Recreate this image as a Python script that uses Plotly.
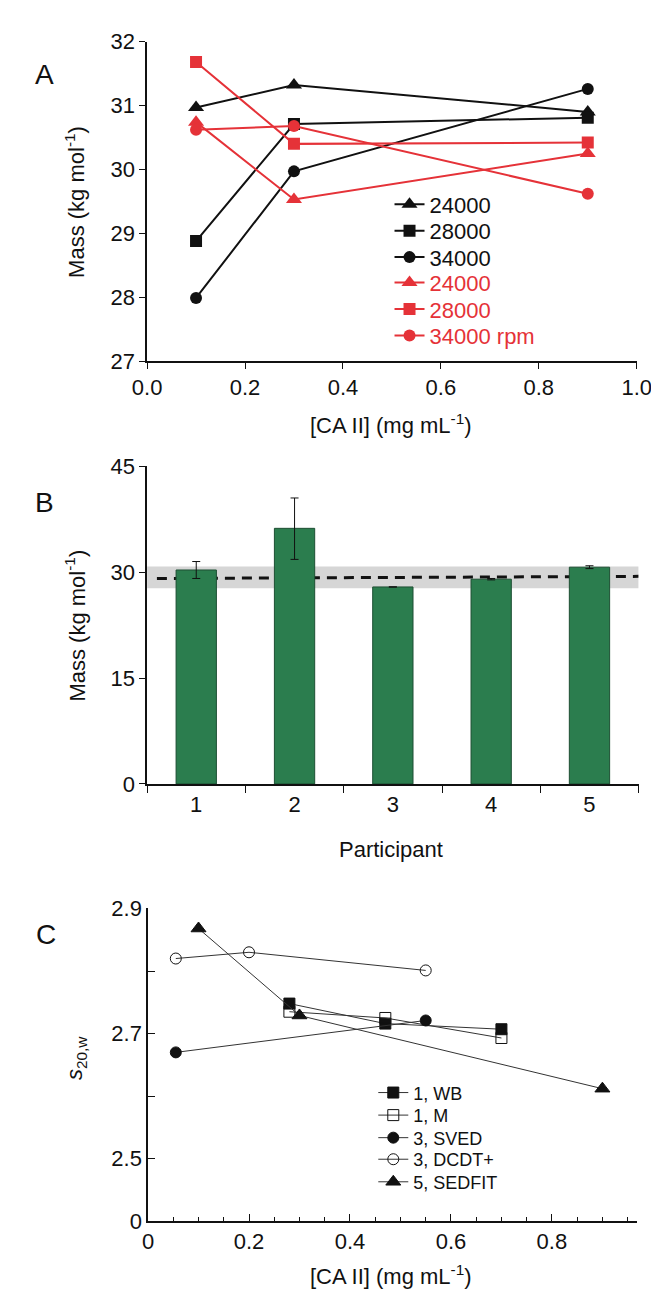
import plotly.graph_objects as go

W, H = 659, 1293
def px(x): return x / W
def py(y): return 1 - y / H

FONT = "Liberation Sans, Arial, sans-serif"
RED = "#e53238"
BLACK = "#111111"

# ---------------- Panel A data ----------------
conc_a = [0.1, 0.3, 0.9]
a_black_24000 = [30.97, 31.32, 30.90]
a_black_28000 = [28.88, 30.71, 30.81]
a_black_34000 = [27.99, 29.97, 31.26]
a_red_24000 = [30.74, 29.53, 30.25]
a_red_28000 = [31.68, 30.40, 30.42]
a_red_34000 = [30.62, 30.68, 29.62]
a_labels = ["24000", "28000", "34000", "24000", "28000", "34000 rpm"]

# ---------------- Panel B data ----------------
participants = [1, 2, 3, 4, 5]
b_mass = [30.3, 36.2, 27.9, 29.0, 30.7]
b_err_plus = [1.2, 4.3, None, 0.1, 0.2]
b_err_minus = [1.2, 4.4, None, 0.1, 0.2]
b_band_x = [0.5, 5.5]
b_band_low = [27.7, 27.7]
b_band_high = [30.8, 30.8]
b_mean_x = [0.6, 5.5]
b_mean_y = [29.1, 29.4]

# ---------------- Panel C data ----------------
c_wb_x = [0.28, 0.47, 0.70]
c_wb_y = [2.748, 2.716, 2.707]
c_m_x = [0.28, 0.47, 0.70]
c_m_y = [2.735, 2.725, 2.693]
c_sved_x = [0.055, 0.55]
c_sved_y = [2.670, 2.721]
c_dcdt_x = [0.055, 0.20, 0.55]
c_dcdt_y = [2.820, 2.830, 2.801]
c_sedfit_x = [0.10, 0.30, 0.90]
c_sedfit_y = [2.868, 2.729, 2.612]
c_labels = ["1, WB", "1, M", "3, SVED", "3, DCDT+", "5, SEDFIT"]
c_ytickvals = [2.4, 2.5, 2.6, 2.7, 2.8, 2.9]
c_yticktext = ["0", "2.5", "", "2.7", "", "2.9"]

fig = go.Figure()
legends = {}

# Panel A traces, one legend entry box per row
a_series = [
    (a_black_24000, BLACK, "triangle-up", 14),
    (a_black_28000, BLACK, "square", 12),
    (a_black_34000, BLACK, "circle", 12),
    (a_red_24000, RED, "triangle-up", 14),
    (a_red_28000, RED, "square", 12),
    (a_red_34000, RED, "circle", 12),
]
a_rows = [188, 215, 242, 268, 295, 322]
for i, ((vals, col, sym, sz), lab) in enumerate(zip(a_series, a_labels)):
    key = "legend" if i == 0 else f"legend{i + 1}"
    fig.add_trace(go.Scatter(
        x=conc_a, y=vals, mode="lines+markers", name=lab,
        line=dict(color=col, width=2),
        marker=dict(symbol=sym, size=sz, color=col),
        xaxis="x", yaxis="y", legend=key))
    legends[key] = dict(x=px(384), y=py(a_rows[i]), xanchor="left", yanchor="middle",
                        bgcolor="rgba(0,0,0,0)", borderwidth=0,
                        font=dict(family=FONT, size=22, color=col))

# Panel B traces (band + mean line on base axes, bars on overlaying axes)
fig.add_trace(go.Scatter(
    x=b_band_x, y=b_band_low, mode="lines", line=dict(width=0, color="#d6d6d6"),
    showlegend=False, xaxis="x2", yaxis="y2", hoverinfo="skip"))
fig.add_trace(go.Scatter(
    x=b_band_x, y=b_band_high, mode="lines", line=dict(width=0, color="#d6d6d6"),
    fill="tonexty", fillcolor="#d6d6d6",
    showlegend=False, xaxis="x2", yaxis="y2", hoverinfo="skip"))
fig.add_trace(go.Scatter(
    x=b_mean_x, y=b_mean_y, mode="lines",
    line=dict(color=BLACK, width=3, dash="10px,7px"),
    showlegend=False, xaxis="x2", yaxis="y2"))
fig.add_trace(go.Bar(
    x=participants, y=b_mass, width=0.41,
    marker=dict(color="#2b7d4e", line=dict(color="#1d4f33", width=1)),
    error_y=dict(type="data", array=b_err_plus, arrayminus=b_err_minus,
                 symmetric=False, color=BLACK, thickness=1, width=4),
    showlegend=False, xaxis="x4", yaxis="y4"))

# Panel C traces
c_series = [
    (c_wb_x, c_wb_y, "square", BLACK, 11),
    (c_m_x, c_m_y, "square-open", BLACK, 11),
    (c_sved_x, c_sved_y, "circle", BLACK, 11),
    (c_dcdt_x, c_dcdt_y, "circle-open", BLACK, 11),
    (c_sedfit_x, c_sedfit_y, "triangle-up", BLACK, 13),
]
c_rows = [1094, 1117, 1140, 1162, 1185]
for i, ((xs, ys, sym, col, sz), lab) in enumerate(zip(c_series, c_labels)):
    key = f"legend{i + 7}"
    fig.add_trace(go.Scatter(
        x=xs, y=ys, mode="lines+markers", name=lab,
        line=dict(color="#333333", width=1),
        marker=dict(symbol=sym, size=sz, color=col, line=dict(color=col, width=1)),
        xaxis="x3", yaxis="y3", legend=key))
    legends[key] = dict(x=px(367), y=py(c_rows[i]), xanchor="left", yanchor="middle",
                        bgcolor="rgba(0,0,0,0)", borderwidth=0,
                        font=dict(family=FONT, size=18, color=BLACK))

TICKSIZE = 22
axis_common = dict(showgrid=False, zeroline=False, showline=True, linecolor=BLACK,
                   linewidth=1.5, tickcolor=BLACK, tickwidth=1.2,
                   tickfont=dict(family=FONT, size=TICKSIZE, color=BLACK))

fig.update_layout(
    width=W, height=H, margin=dict(l=0, r=0, t=0, b=0),
    paper_bgcolor="white", plot_bgcolor="white",
    font=dict(family=FONT, color=BLACK),
    xaxis=dict(domain=[px(130), px(643)], range=[0, 1.0], dtick=0.2, tickformat=".1f",
               ticks="outside", ticklen=6, anchor="y", **axis_common),
    yaxis=dict(domain=[py(348), py(22)], range=[27, 32], dtick=1,
               ticks="outside", ticklen=6, anchor="x", **axis_common),
    xaxis2=dict(domain=[px(130), px(645)], range=[0.5, 5.5], tickvals=participants,
                ticks="", anchor="y2",
                minor=dict(tickvals=[0.5, 1.5, 2.5, 3.5, 4.5, 5.5], ticks="outside",
                           ticklen=7, tickcolor=BLACK, tickwidth=1.2),
                **axis_common),
    yaxis2=dict(domain=[py(779), py(455)], range=[0, 45], dtick=15,
                ticks="outside", ticklen=6, anchor="x2", **axis_common),
    xaxis4=dict(overlaying="x2", range=[0.5, 5.5], visible=False, anchor="y4"),
    yaxis4=dict(overlaying="y2", range=[0, 45], visible=False, anchor="x4"),
    xaxis3=dict(domain=[px(131), px(643)], range=[0, 0.968], dtick=0.2,
                ticks="inside", ticklen=8, anchor="y3",
                minor=dict(dtick=0.05, ticks="inside", ticklen=5, tickcolor=BLACK, tickwidth=1),
                **axis_common),
    yaxis3=dict(domain=[py(1225), py(906)], range=[2.4, 2.9], tickvals=c_ytickvals,
                ticktext=c_yticktext, ticks="inside", ticklen=7, anchor="x3",
                **axis_common),
    **legends,
)

ann = []
def add_text(text, x, y, size=22, angle=0):
    ann.append(dict(text=text, x=px(x), y=py(y), xref="paper", yref="paper",
                    showarrow=False, xanchor="center", yanchor="middle",
                    textangle=angle, font=dict(family=FONT, size=size, color=BLACK)))

add_text("A", 23, 56, 28)
add_text("B", 23, 492, 28)
add_text("C", 24, 933, 28)
add_text("Mass (kg mol<sup>-1</sup>)", 55, 185, 22, -90)
add_text("[CA II] (mg mL<sup>-1</sup>)", 386, 412, 22)
add_text("Mass (kg mol<sup>-1</sup>)", 55, 617, 22, -90)
add_text("Participant", 386, 846, 22)
add_text("<i>s</i><sub>20,w</sub>", 55, 1058, 22, -90)
add_text("[CA II] (mg mL<sup>-1</sup>)", 386, 1280, 22)
fig.update_layout(annotations=ann)

fig.write_html("out.html")
